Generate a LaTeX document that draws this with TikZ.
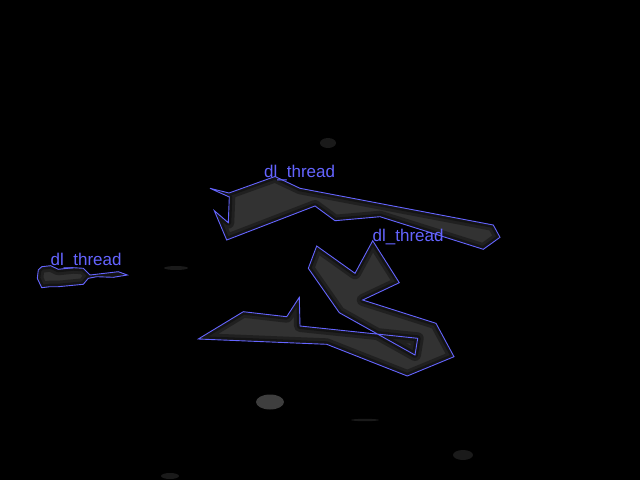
\documentclass[tikz,border=0pt]{standalone}
\usepackage{fontspec}
\setmainfont{Liberation Sans}
\definecolor{outl}{RGB}{100,100,255}
\definecolor{blob}{RGB}{50,50,50}
\definecolor{blobb}{RGB}{62,62,62}
\definecolor{faint}{RGB}{26,26,26}
\begin{document}
\begin{tikzpicture}[x=1pt,y=-1pt,
  edgeline/.style={draw=outl,line width=0.9pt,line join=miter},
  soft/.style={draw=black,opacity=0.35,line join=round},
  lbl/.style={text=outl,font=\fontsize{17}{17}\selectfont,anchor=base west,inner sep=0pt}]
\fill[black] (0,0) rectangle (640,480);
\useasboundingbox (0,0) rectangle (640,480);
% faint blobs
\fill[blobb] (270,402) ellipse [x radius=14, y radius=7.5];
\fill[faint] (328,143) ellipse [x radius=8, y radius=5];
\fill[faint] (176,268) ellipse [x radius=12, y radius=2];
\fill[faint] (463,455) ellipse [x radius=10, y radius=5];
\fill[faint] (170,476) ellipse [x radius=9, y radius=3];
\fill[faint] (365,420) ellipse [x radius=14, y radius=1.2];
% region paths
\path[save path=\pA] (229,193) -- (275,176.5) -- (300,188.3) -- (493.3,225) -- (500,237.3) -- (483.3,249.3)
  -- (380,216.7) -- (335,220.7) -- (315,206) -- (226.7,240) -- (214.3,210.7) -- (228.3,222.7)
  -- (229.3,197) -- (210,188.3) -- cycle;
\path[save path=\pB] (316.7,246) -- (355,273.3) -- (372.7,240.7) -- (399.3,282.7) -- (362.7,300)
  -- (436,323.3) -- (454,356.7) -- (407.3,376) -- (326.7,344.3) -- (198.3,339)
  -- (243.3,311.7) -- (286.7,316.7) -- (299.3,297.3) -- (300,326) -- (417.7,338.3)
  -- (415,355) -- (339.3,312.7) -- (308.3,268.3) -- cycle;
\path[save path=\pC] (38.3,270) -- (41.7,266.7) -- (50.7,265.7) -- (58.3,269.3) -- (73.3,267.7)
  -- (83.3,268.3) -- (90,275) -- (118.3,271.7) -- (127.3,275) -- (113.3,277.3)
  -- (96.7,276.7) -- (88.3,278.3) -- (83.3,284.3) -- (58.3,286.7) -- (50,286.7)
  -- (41.7,287.7) -- (37.3,278.3) -- cycle;
% fills with softened edges
\foreach \p in {\pA,\pB,\pC}{
  \fill[blob,use path=\p];
  \begin{scope}
    \clip[use path=\p];
    \path[soft,line width=12pt,use path=\p];
    \path[soft,line width=6pt,use path=\p];
  \end{scope}
}
% outlines
\path[edgeline,use path=\pA];
\path[edgeline,use path=\pB];
\path[edgeline,use path=\pC];
% labels
\node[lbl] (l1) at (264,177) {dl\_thread};
\node[lbl] (l2) at (372.5,241.5) {dl\_thread};
\node[lbl] (l3) at (50.5,265) {dl\_thread};
\end{tikzpicture}
\end{document}
